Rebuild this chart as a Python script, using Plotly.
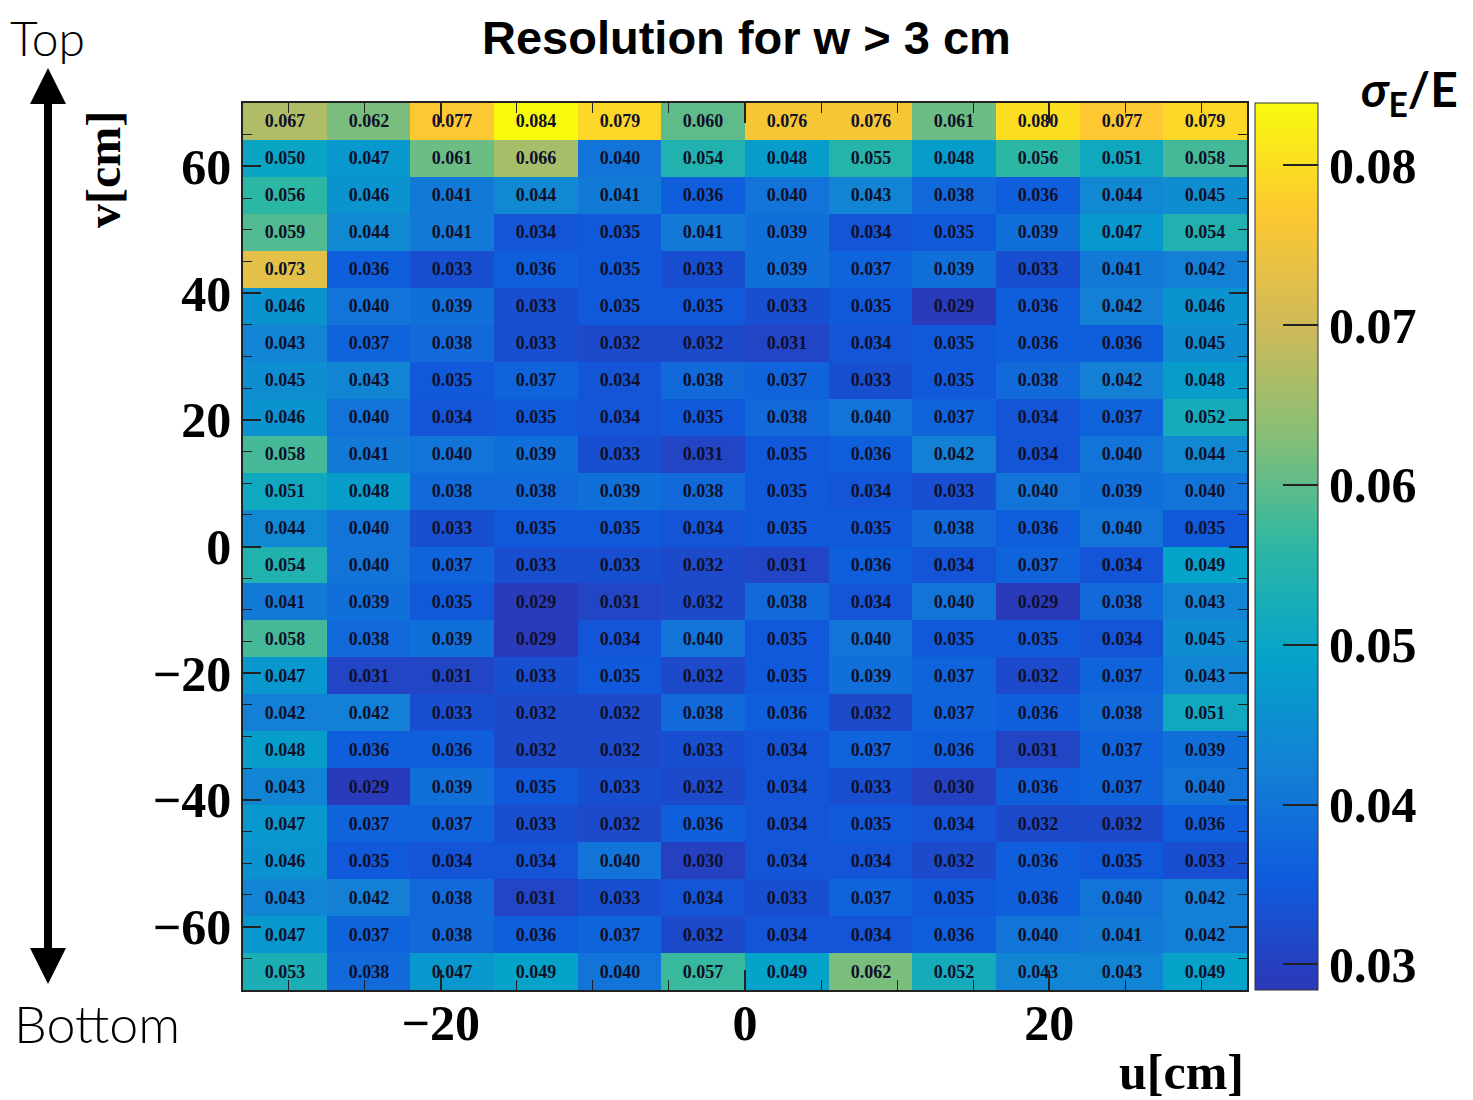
import numpy as np
import plotly.graph_objects as go

# ---------------- data (rows listed from top v to bottom v) ----------------
u_low, u_high, n_u = -33.0, 33.0, 12
v_low, v_high, n_v = -70.0, 70.0, 24

row01 = [0.067, 0.062, 0.077, 0.084, 0.079, 0.060, 0.076, 0.076, 0.061, 0.080, 0.077, 0.079]
row02 = [0.050, 0.047, 0.061, 0.066, 0.040, 0.054, 0.048, 0.055, 0.048, 0.056, 0.051, 0.058]
row03 = [0.056, 0.046, 0.041, 0.044, 0.041, 0.036, 0.040, 0.043, 0.038, 0.036, 0.044, 0.045]
row04 = [0.059, 0.044, 0.041, 0.034, 0.035, 0.041, 0.039, 0.034, 0.035, 0.039, 0.047, 0.054]
row05 = [0.073, 0.036, 0.033, 0.036, 0.035, 0.033, 0.039, 0.037, 0.039, 0.033, 0.041, 0.042]
row06 = [0.046, 0.040, 0.039, 0.033, 0.035, 0.035, 0.033, 0.035, 0.029, 0.036, 0.042, 0.046]
row07 = [0.043, 0.037, 0.038, 0.033, 0.032, 0.032, 0.031, 0.034, 0.035, 0.036, 0.036, 0.045]
row08 = [0.045, 0.043, 0.035, 0.037, 0.034, 0.038, 0.037, 0.033, 0.035, 0.038, 0.042, 0.048]
row09 = [0.046, 0.040, 0.034, 0.035, 0.034, 0.035, 0.038, 0.040, 0.037, 0.034, 0.037, 0.052]
row10 = [0.058, 0.041, 0.040, 0.039, 0.033, 0.031, 0.035, 0.036, 0.042, 0.034, 0.040, 0.044]
row11 = [0.051, 0.048, 0.038, 0.038, 0.039, 0.038, 0.035, 0.034, 0.033, 0.040, 0.039, 0.040]
row12 = [0.044, 0.040, 0.033, 0.035, 0.035, 0.034, 0.035, 0.035, 0.038, 0.036, 0.040, 0.035]
row13 = [0.054, 0.040, 0.037, 0.033, 0.033, 0.032, 0.031, 0.036, 0.034, 0.037, 0.034, 0.049]
row14 = [0.041, 0.039, 0.035, 0.029, 0.031, 0.032, 0.038, 0.034, 0.040, 0.029, 0.038, 0.043]
row15 = [0.058, 0.038, 0.039, 0.029, 0.034, 0.040, 0.035, 0.040, 0.035, 0.035, 0.034, 0.045]
row16 = [0.047, 0.031, 0.031, 0.033, 0.035, 0.032, 0.035, 0.039, 0.037, 0.032, 0.037, 0.043]
row17 = [0.042, 0.042, 0.033, 0.032, 0.032, 0.038, 0.036, 0.032, 0.037, 0.036, 0.038, 0.051]
row18 = [0.048, 0.036, 0.036, 0.032, 0.032, 0.033, 0.034, 0.037, 0.036, 0.031, 0.037, 0.039]
row19 = [0.043, 0.029, 0.039, 0.035, 0.033, 0.032, 0.034, 0.033, 0.030, 0.036, 0.037, 0.040]
row20 = [0.047, 0.037, 0.037, 0.033, 0.032, 0.036, 0.034, 0.035, 0.034, 0.032, 0.032, 0.036]
row21 = [0.046, 0.035, 0.034, 0.034, 0.040, 0.030, 0.034, 0.034, 0.032, 0.036, 0.035, 0.033]
row22 = [0.043, 0.042, 0.038, 0.031, 0.033, 0.034, 0.033, 0.037, 0.035, 0.036, 0.040, 0.042]
row23 = [0.047, 0.037, 0.038, 0.036, 0.037, 0.032, 0.034, 0.034, 0.036, 0.040, 0.041, 0.042]
row24 = [0.053, 0.038, 0.047, 0.049, 0.040, 0.057, 0.049, 0.062, 0.052, 0.043, 0.043, 0.049]

rows_top_to_bottom = [row01, row02, row03, row04, row05, row06, row07, row08,
                      row09, row10, row11, row12, row13, row14, row15, row16,
                      row17, row18, row19, row20, row21, row22, row23, row24]

x_tick_vals = [-20, 0, 20]
y_tick_vals = [-60, -40, -20, 0, 20, 40, 60]
cbar_tick_vals = [0.03, 0.04, 0.05, 0.06, 0.07, 0.08]
z_min, z_max = 0.0284, 0.0839

# ---------------- figure ----------------
u_edges = np.linspace(u_low, u_high, n_u + 1)
v_edges = np.linspace(v_low, v_high, n_v + 1)
z = np.array(rows_top_to_bottom[::-1])

# ROOT kBird-like palette (slightly bluer low end, as in the reference)
stops = [0.0, 0.125, 0.25, 0.375, 0.5, 0.625, 0.75, 0.875, 1.0]
red = [0.17, 0.0592, 0.0780, 0.0232, 0.1802, 0.5301, 0.8186, 0.9956, 0.9764]
green = [0.22, 0.3599, 0.5041, 0.6419, 0.7178, 0.7492, 0.7328, 0.7862, 0.9832]
blue = [0.72, 0.8684, 0.8385, 0.7914, 0.6425, 0.4662, 0.3499, 0.1968, 0.0539]
colorscale = [[s, "rgb(%d,%d,%d)" % (r * 255, g * 255, b * 255)]
              for s, r, g, b in zip(stops, red, green, blue)]

# page has an 8px body margin: figure placed at (8, 8)
OFF = 8
W, H = 1473 - OFF, 1100 - OFF
L, R, T, B = 243, 1247, 103, 990  # target plot-area edges in screen pixels


def px_x(p):
    return (p - L) / (R - L)


def px_y(p):
    return (B - p) / (B - T)


SERIF = "Liberation Serif, Times New Roman, serif"
SANS = "Liberation Sans, Arial, sans-serif"
THIN = "Lato, Noto Sans, sans-serif"

fig = go.Figure()
fig.add_trace(go.Heatmap(
    x=u_edges, y=v_edges, z=z,
    zmin=z_min, zmax=z_max,
    colorscale=colorscale,
    texttemplate="%{z:.3f}",
    textfont=dict(family=SERIF, size=18, color="#10102a", weight="bold"),
    hoverinfo="skip",
    colorbar=dict(
        x=px_x(1255), xanchor="left", xpad=0,
        y=0.5, yanchor="middle", len=1, lenmode="fraction", ypad=0,
        thickness=63, thicknessmode="pixels",
        outlinewidth=1, outlinecolor="#333",
        tickvals=cbar_tick_vals,
        ticktext=["%.2f" % t for t in cbar_tick_vals],
        ticks="inside", ticklen=35, tickwidth=1.5, tickcolor="#222",
        tickfont=dict(family=SERIF, size=50, color="black", weight="bold"),
    ),
))

axis_common = dict(
    showline=True, linecolor="#222", linewidth=1.5, mirror="ticks",
    ticks="inside", tickcolor="#222", tickwidth=1.5,
    showgrid=False, zeroline=False,
    tickfont=dict(family=SERIF, size=50, color="black", weight="bold"),
)
fig.update_xaxes(range=[u_low, u_high], tickvals=x_tick_vals, ticklen=20,
                 ticklabelstandoff=-12,
                 minor=dict(dtick=5, ticks="inside", ticklen=10, tickcolor="#222", tickwidth=1.2),
                 **axis_common)
fig.update_yaxes(range=[v_low, v_high], tickvals=y_tick_vals, ticklen=18,
                 minor=dict(dtick=5, ticks="inside", ticklen=9, tickcolor="#222", tickwidth=1.2),
                 **axis_common)

annotations = [
    dict(text="<b>Resolution for w > 3 cm</b>", x=px_x(746), y=px_y(37),
         font=dict(family=SANS, size=47, color="black")),
    dict(text="Top", x=px_x(47), y=px_y(37),
         font=dict(family=THIN, size=48, color="black", weight=300)),
    dict(text="Bottom", x=px_x(97), y=px_y(1023),
         font=dict(family=THIN, size=52, color="black", weight=300)),
    dict(text="<b>v[cm]</b>", x=px_x(104), y=px_y(170), textangle=-90,
         font=dict(family=SERIF, size=48, color="black")),
    dict(text="<b>u[cm]</b>", x=px_x(1181), y=px_y(1072),
         font=dict(family=SERIF, size=50, color="black")),
    dict(text="<b><i>σ</i><sub>E</sub>/E</b>", x=px_x(1409), y=px_y(92),
         font=dict(family=THIN, size=48, color="black")),
]
for a in annotations:
    a.update(xref="paper", yref="paper", showarrow=False, xanchor="center", yanchor="middle")
fig.update_layout(annotations=annotations)

# Double-headed arrow (decoration)
ax = px_x(48)
hw = 18 / (R - L)
shapes = [
    dict(type="line", xref="paper", yref="paper", x0=ax, x1=ax,
         y0=px_y(100), y1=px_y(952), line=dict(color="black", width=8)),
    dict(type="path", xref="paper", yref="paper", fillcolor="black", line=dict(width=0),
         path="M %f,%f L %f,%f L %f,%f Z" % (ax, px_y(68), ax - hw, px_y(104), ax + hw, px_y(104))),
    dict(type="path", xref="paper", yref="paper", fillcolor="black", line=dict(width=0),
         path="M %f,%f L %f,%f L %f,%f Z" % (ax, px_y(984), ax - hw, px_y(948), ax + hw, px_y(948))),
]
fig.update_layout(shapes=shapes)

fig.update_layout(
    width=W, height=H, autosize=False,
    margin=dict(l=L - OFF, r=(W + OFF) - R, t=T - OFF, b=(H + OFF) - B, pad=0),
    paper_bgcolor="white", plot_bgcolor="white",
    showlegend=False,
)

fig.write_html("out.html")
